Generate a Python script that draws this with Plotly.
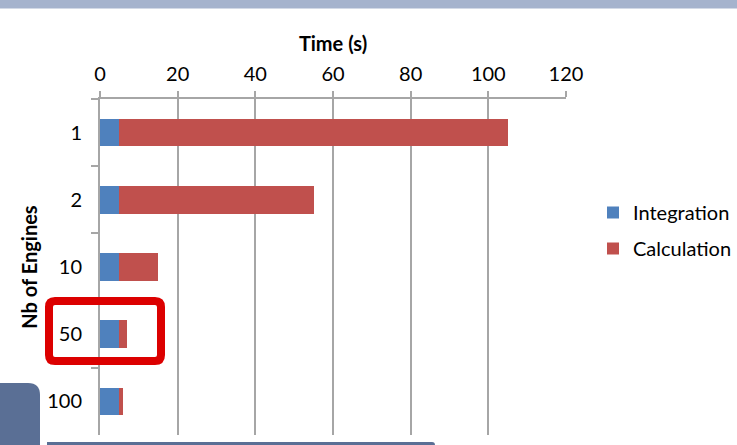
import plotly.graph_objects as go

# Chart data
engines = ["1", "2", "10", "50", "100"]
integration = [5, 5, 5, 5, 5]
calculation = [100, 50, 10, 2, 0.9]
time_ticks = [0, 20, 40, 60, 80, 100, 120]

# Page geometry (pixels) and plot-area margins
W, H = 737, 445
L, R, T, B = 100, 171, 99, 10
PW, PH = W - L - R, H - T - B

BLUE = "#4F81BD"
RED = "#C0504D"
GRID = "#A6A6A6"
SLATE = "#5A6F95"
FONT = "Lato"


def px(x):
    return (x - L) / PW


def py(y):
    return (H - B - y) / PH


def rounded_rect(x0, y0, x1, y1, tl=0, tr=0, br=0, bl=0):
    """SVG path (paper units) of a rectangle given in page pixels."""
    pts = [
        ("M", (x0 + tl, y0)),
        ("L", (x1 - tr, y0)),
        ("Q", (x1, y0), (x1, y0 + tr)),
        ("L", (x1, y1 - br)),
        ("Q", (x1, y1), (x1 - br, y1)),
        ("L", (x0 + bl, y1)),
        ("Q", (x0, y1), (x0, y1 - bl)),
        ("L", (x0, y0 + tl)),
        ("Q", (x0, y0), (x0 + tl, y0)),
    ]
    out = []
    for cmd, *coords in pts:
        out.append(cmd + " ".join(f"{px(a):.5f},{py(b):.5f}" for a, b in coords))
    return " ".join(out) + " Z"


fig = go.Figure()
fig.add_trace(go.Bar(
    y=engines, x=integration, name="Integration", orientation="h",
    marker=dict(color=BLUE, line=dict(width=0)), legendgroup="a",
))
fig.add_trace(go.Bar(
    y=engines, x=calculation, name="Calculation", orientation="h",
    marker=dict(color=RED, line=dict(width=0)), legendgroup="b",
))

shapes = [
    # slide header band
    dict(type="rect", xref="paper", yref="paper",
         x0=px(-5), x1=px(W + 5), y0=py(0), y1=py(8.5),
         fillcolor="#A5B3CD", line=dict(width=0)),
    # slide decoration, lower left
    dict(type="path", xref="paper", yref="paper",
         path=rounded_rect(-5, 383, 40, 452, tr=12),
         fillcolor=SLATE, line=dict(width=0)),
    dict(type="path", xref="paper", yref="paper",
         path=rounded_rect(47, 442, 435, 452, tr=3),
         fillcolor=SLATE, line=dict(width=0)),
    # highlight around the 50-engine row
    dict(type="path", xref="paper", yref="paper", layer="above",
         path=rounded_rect(49, 301, 161, 361, tl=6, tr=6, br=6, bl=6),
         line=dict(color="#DC0000", width=8), fillcolor="rgba(0,0,0,0)"),
]

fig.update_layout(
    width=W, height=H,
    margin=dict(l=L, r=R, t=T, b=B, autoexpand=False),
    paper_bgcolor="white", plot_bgcolor="white",
    barmode="stack", bargap=0.59,
    font=dict(family=FONT, size=20, color="#000000"),
    shapes=shapes,
    legend=dict(
        x=px(593), xanchor="left", y=py(193), yanchor="top",
        traceorder="grouped", tracegroupgap=7,
        font=dict(family=FONT, size=20, color="#000000"),
        bgcolor="rgba(0,0,0,0)", borderwidth=0,
    ),
    xaxis=dict(
        side="top", range=[0, 120], tickvals=time_ticks,
        showgrid=True, gridcolor=GRID, gridwidth=2,
        showline=True, linecolor=GRID, linewidth=2,
        ticks="outside", ticklen=6, tickwidth=2, tickcolor=GRID,
        zeroline=False, tickfont=dict(size=20), ticklabelstandoff=2,
        title=dict(text="<b>Time (s)</b>", font=dict(family=FONT, size=20),
                   standoff=4),
    ),
    yaxis=dict(
        type="category", categoryorder="array", categoryarray=engines,
        autorange="reversed",
        showgrid=False, zeroline=False,
        showline=True, linecolor=GRID, linewidth=2,
        ticks="outside", tickson="boundaries", ticklen=7, tickwidth=2,
        tickcolor=GRID, tickfont=dict(size=20), ticklabelstandoff=12,
        title=dict(text="<b>Nb of Engines</b>", font=dict(family=FONT, size=20),
                   standoff=4),
    ),
)

fig.write_html("out.html")
